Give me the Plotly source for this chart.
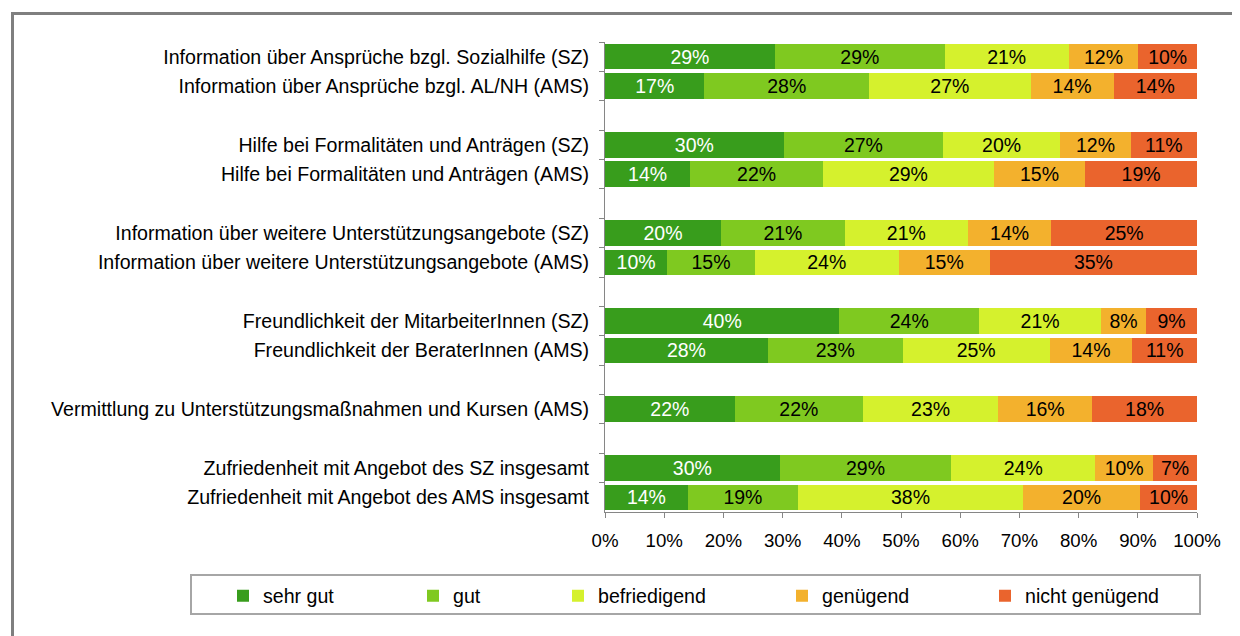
import plotly.graph_objects as go

# Rows top to bottom; "" entries are empty spacer rows
rows = [
    "Information über Ansprüche bzgl. Sozialhilfe (SZ)",
    "Information über Ansprüche bzgl. AL/NH (AMS)",
    "",
    "Hilfe bei Formalitäten und Anträgen (SZ)",
    "Hilfe bei Formalitäten und Anträgen (AMS)",
    "",
    "Information über weitere Unterstützungsangebote (SZ)",
    "Information über weitere Unterstützungsangebote (AMS)",
    "",
    "Freundlichkeit der MitarbeiterInnen (SZ)",
    "Freundlichkeit der BeraterInnen (AMS)",
    "",
    "Vermittlung zu Unterstützungsmaßnahmen und Kursen (AMS)",
    "",
    "Zufriedenheit mit Angebot des SZ insgesamt",
    "Zufriedenheit mit Angebot des AMS insgesamt",
]

series_names = ["sehr gut", "gut", "befriedigend", "genügend", "nicht genügend"]

# percentages per real row (same order as non-empty rows above)
sehr_gut       = [28.7, 16.8, 30.2, 14.4, 19.6, 10.5, 39.6, 27.5, 21.9, 29.5, 14.0]
gut            = [28.7, 27.8, 26.9, 22.4, 20.9, 14.8, 23.6, 22.8, 21.7, 29.0, 18.6]
befriedigend   = [20.9, 27.3, 19.8, 28.9, 20.8, 24.3, 20.6, 24.8, 22.8, 24.3, 38.0]
genuegend      = [11.8, 14.0, 11.9, 15.4, 14.1, 15.4,  7.6, 14.0, 15.9,  9.8, 19.8]
nicht_genuegend = [9.9, 14.1, 11.2, 18.9, 24.6, 35.0,  8.6, 10.9, 17.7,  7.4,  9.6]

x_ticks = [0, 10, 20, 30, 40, 50, 60, 70, 80, 90, 100]

series_values = [sehr_gut, gut, befriedigend, genuegend, nicht_genuegend]
colors = ["#389d1c", "#7fc920", "#d5f12d", "#f3b12d", "#ea642d"]
text_colors = ["white", "black", "black", "black", "black"]
# left edge (window px) of each legend entry
legend_left_px = [223, 413, 558, 782, 985]

# unique placeholder names for spacer rows
cat_array = []
n_gap = 0
for r in rows:
    if r == "":
        n_gap += 1
        cat_array.append(" " * n_gap)
    else:
        cat_array.append(r)
real_rows = [r for r in rows if r != ""]

FONT = "Liberation Sans, Arial, sans-serif"
FS = 18.67
FS_LAB = 19.6

# page body has an 8px offset; work in window pixels and convert
OFF = 8
W, H = 1240 - OFF, 636 - OFF
PL, PR, PT, PB = 605, 1197, 42, 512  # plot area in window pixels
L, R, T, B = PL - OFF, 1240 - PR, PT - OFF, 636 - PB
pw, ph = PR - PL, PB - PT

def px_x(p):
    return (p - PL) / pw

def px_y(p):
    return (PB - p) / ph

fig = go.Figure()
legend_layouts = {}
for i, (name, vals, col, tcol) in enumerate(zip(series_names, series_values, colors, text_colors)):
    lname = "legend" if i == 0 else f"legend{i + 1}"
    fig.add_trace(go.Bar(
        y=real_rows, x=vals, name=name, orientation="h",
        marker=dict(color=col, line=dict(width=0)),
        text=[f"{round(v):d}%" for v in vals],
        textposition="inside", insidetextanchor="middle",
        constraintext="none",
        textfont=dict(color=tcol, size=19.5, family=FONT),
        hoverinfo="skip", legend=lname, showlegend=True,
    ))
    legend_layouts[lname] = dict(
        orientation="h", x=px_x(legend_left_px[i]), xanchor="left",
        y=px_y(596), yanchor="middle", itemwidth=30,
        font=dict(size=FS_LAB, family=FONT, color="black"),
        bgcolor="rgba(0,0,0,0)", borderwidth=0,
    )

shapes = [
    dict(type="rect", xref="paper", yref="paper",
         x0=px_x(191), x1=px_x(1200), y0=px_y(575), y1=px_y(614),
         line=dict(color="#a6a6a6", width=2), fillcolor="rgba(0,0,0,0)", layer="below"),
    dict(type="rect", xref="paper", yref="paper",
         x0=px_x(12.5), x1=px_x(1300), y0=px_y(13.5), y1=px_y(700),
         line=dict(color="#7f7f7f", width=3), fillcolor="rgba(0,0,0,0)", layer="below"),
]

fig.update_layout(
    width=W, height=H,
    margin=dict(l=L, r=R, t=T, b=B, pad=0),
    barmode="stack", bargap=0.13,
    plot_bgcolor="white", paper_bgcolor="white",
    font=dict(family=FONT, size=FS, color="black"),
    showlegend=True,
    shapes=shapes,
    xaxis=dict(range=[0, 100], tickvals=x_ticks, ticktext=[f"{v}%" for v in x_ticks],
               showgrid=False, zeroline=False, showline=True, linecolor="#868686",
               linewidth=1, ticks="outside", ticklen=5, tickcolor="#868686",
               ticklabelstandoff=7, tickfont=dict(size=FS, color="black")),
    yaxis=dict(categoryorder="array", categoryarray=cat_array, type="category",
               range=[len(cat_array) - 0.5, -0.5],
               showgrid=False, zeroline=False, showline=True, linecolor="#868686",
               linewidth=1, ticks="outside", ticklen=5, tickcolor="#868686",
               tickson="boundaries", ticklabelstandoff=11,
               tickfont=dict(size=FS_LAB, color="black")),
    **legend_layouts,
)

fig.write_html("out.html")
